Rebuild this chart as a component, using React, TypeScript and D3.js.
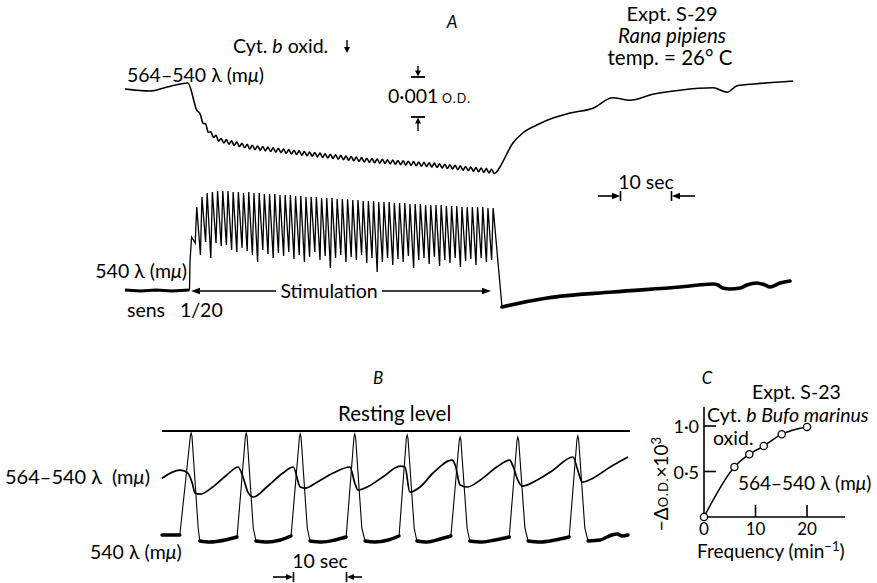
import React from "react";
import * as d3 from "d3";

const FONT = "Lato, 'Open Sans', 'DejaVu Sans', sans-serif";

// ---------------- Panel A data ----------------
// upper trace 564-540 (time s, ΔO.D. ×10^3 relative to start)
const A_TOP_T = [0, 4.8, 8.1, 12.1, 13.8, 16.3, 18.3, 24, 33.7, 46.5, 59.2, 70.2, 71.5, 72.1, 74.6, 76.5, 79.2, 81.2, 85.6, 90, 93.8, 97.1, 101.5, 106.7, 113.1, 115.8, 117.7, 121.5, 128.5];
const A_TOP_V = [0, -0.05, 0.05, 0.15, -0.53, -1.1, -1.28, -1.45, -1.6, -1.78, -1.9, -2.05, -2.07, -1.95, -1.35, -1.1, -0.9, -0.78, -0.6, -0.48, -0.22, -0.28, -0.13, -0.03, 0.03, -0.08, 0.08, 0.13, 0.2];
const A_WIGGLE = 0.05;

// lower trace 540 (arbitrary units), before / during / after stimulation
const A_BOT_PRE_T = [0, 3, 6, 9, 12.4];
const A_BOT_PRE_U = [0, -1, 0, -1, 0];
const A_STIM_START = 12.5;
const A_STIM_DT = 1.0;
const A_STIM_PEAK = [53, 83, 93, 97, 98, 99, 99, 99, 98, 98, 97, 98, 97, 97, 96, 96, 96, 95, 95, 95, 94, 94, 93, 93, 93, 92, 92, 92, 91, 91, 91, 90, 90, 89, 89, 89, 88, 88, 88, 87, 87, 87, 86, 86, 86, 85, 85, 85, 85, 84, 84, 84, 83, 83, 83, 83, 83, 82, 82];
const A_STIM_TROUGH = [28, 47, 35, 48, 32, 47, 44, 45, 40, 38, 42, 39, 35, 28, 40, 36, 32, 37, 34, 38, 31, 35, 28, 33, 38, 30, 34, 22, 32, 35, 28, 33, 30, 35, 27, 32, 18, 28, 32, 25, 31, 28, 34, 22, 30, 32, 26, 33, 24, 30, 27, 32, 23, 29, 31, 25, 32, 28, 30];
const A_BOT_POST_T = [72.5, 73.3, 81.2, 93.8, 106.7, 113.1, 114, 115, 116.3, 118.3, 119.6, 121.5, 123.1, 124, 126, 127.9];
const A_BOT_POST_U = [-17, -16, -8, -2, 3, 6, 5, 2, 1, 2, 5, 7, 5, 3, 7, 9];

// ---------------- Panel B data ----------------
const B_UP_T = [0, 3.3, 4.6, 5.6, 6.1, 7.0, 9.4, 12.0, 14.1, 15.0, 15.9, 16.9, 19.4, 22.4, 24.3, 25.6, 26.5, 28.7, 31.7, 34.8, 35.7, 36.3, 38.0, 40.9, 44.1, 45.0, 45.9, 47.8, 50.2, 53.7, 54.3, 55.2, 56.5, 58.9, 62.0, 64.4, 65.0, 65.9, 66.7, 69.4, 72.4, 76.1, 77.0, 77.8, 79.8, 83.0, 86.3];
const B_UP_V = [-1.18, -0.98, -1.03, -1.3, -1.55, -1.58, -1.4, -1.1, -0.9, -1.15, -1.53, -1.65, -1.4, -1.05, -0.9, -1.4, -1.43, -1.28, -1.05, -0.9, -1.3, -1.48, -1.4, -1.15, -0.88, -0.9, -1.53, -1.4, -1.05, -0.73, -0.85, -1.35, -1.4, -1.23, -0.9, -0.73, -0.88, -1.23, -1.38, -1.23, -0.98, -0.65, -0.98, -1.28, -1.18, -0.9, -0.65];
const B_SPIKE_T = [5.4, 15.6, 25.6, 35.7, 45.4, 55.2, 65.9, 77.0];
const B_SPIKE_PEAK = [107, 107, 106, 106, 105, 103, 103, 104];
const B_LO_T = [0, 3.3, 7.0, 8.9, 11.7, 13.9, 17.4, 19.6, 21.9, 23.9, 27.4, 29.6, 32.0, 34.1, 37.6, 39.4, 41.9, 43.9, 47.2, 49.1, 51.5, 53.5, 57.0, 59.3, 61.7, 64.3, 67.8, 70.0, 72.8, 75.4, 78.9, 81.1, 82.4, 83.3, 84.3, 85.2, 86.3];
const B_LO_U = [5, 5, -1, -2, 0, 3, -1, -2, 0, 4, -1, -2, 0, 3, -1, -2, 0, 4, -1, -2, 1, 4, -1, -2, 0, 3, -1, -2, 0, 3, -1, 0, 3, 5, 6, 4, 5];

// ---------------- Panel C data ----------------
const C_FREQ = [0, 5.9, 8.8, 11.6, 15.1, 20];
const C_DOD = [0, 0.55, 0.69, 0.78, 0.91, 0.99];
const C_XTICKS = [0, 10, 20];
const C_YTICKS = [0.5, 1.0];
const C_YTICK_LABELS = ["0·5", "1·0"];

function head(x: number, y: number, dir: string, L = 8, w = 3.5) {
  switch (dir) {
    case "right":
      return `M${x},${y}L${x - L},${y - w}L${x - L},${y + w}Z`;
    case "left":
      return `M${x},${y}L${x + L},${y - w}L${x + L},${y + w}Z`;
    case "down":
      return `M${x},${y}L${x - w},${y - L}L${x + w},${y - L}Z`;
    default:
      return `M${x},${y}L${x - w},${y + L}L${x + w},${y + L}Z`;
  }
}

const Mu = () => <tspan fontStyle="italic">μ</tspan>;

export default function App() {
  // ----- scales -----
  const xA = d3.scaleLinear().domain([0, 10]).range([125, 177]);
  const yAtop = d3.scaleLinear().domain([0, -1]).range([89, 129]);
  const yAbot = d3.scaleLinear().domain([0, 100]).range([290, 190]);

  const xB = d3.scaleLinear().domain([0, 10]).range([162, 216]);
  const yBup = d3.scaleLinear().domain([0, -1]).range([431, 471]);
  const yBlo = d3.scaleLinear().domain([0, 100]).range([540, 440]);

  const xC = d3.scaleLinear().domain([0, 10]).range([704, 755.5]);
  const yC = d3.scaleLinear().domain([0, 1]).range([517, 426]);

  // ----- A upper trace -----
  const envA = d3.scaleLinear().domain(A_TOP_T).range(A_TOP_V);
  const topPts: [number, number][] = [];
  A_TOP_T.forEach((t, i) => {
    if (t < 14) topPts.push([t, A_TOP_V[i]]);
  });
  A_STIM_PEAK.forEach((_, i) => {
    const ts = A_STIM_START + i * A_STIM_DT;
    if (ts < 14.2) return;
    topPts.push([ts, envA(ts) + A_WIGGLE]);
    topPts.push([ts + 0.5, envA(ts + 0.5) - A_WIGGLE]);
  });
  A_TOP_T.forEach((t, i) => {
    if (t > 71.2) topPts.push([t, A_TOP_V[i]]);
  });
  const lineAtop = d3
    .line<[number, number]>()
    .x((d) => xA(d[0]))
    .y((d) => yAtop(d[1]))
    .curve(d3.curveMonotoneX);

  // ----- A lower trace -----
  const lineAbot = d3
    .line<[number, number]>()
    .x((d) => xA(d[0]))
    .y((d) => yAbot(d[1]));
  const lineAbotSmooth = d3
    .line<[number, number]>()
    .x((d) => xA(d[0]))
    .y((d) => yAbot(d[1]))
    .curve(d3.curveMonotoneX);
  const prePts = A_BOT_PRE_T.map((t, i) => [t, A_BOT_PRE_U[i]] as [number, number]);
  const postPts = A_BOT_POST_T.map((t, i) => [t, A_BOT_POST_U[i]] as [number, number]);
  const stimPts: [number, number][] = [prePts[prePts.length - 1]];
  A_STIM_PEAK.forEach((p, i) => {
    const ts = A_STIM_START + i * A_STIM_DT;
    stimPts.push([ts, A_STIM_TROUGH[i]]);
    stimPts.push([ts + 0.3, p]);
  });
  stimPts.push(postPts[0]);

  // ----- B traces -----
  const lineBup = d3
    .line<[number, number]>()
    .x((d) => xB(d[0]))
    .y((d) => yBup(d[1]))
    .curve(d3.curveMonotoneX);
  const bUpPts = B_UP_T.map((t, i) => [t, B_UP_V[i]] as [number, number]);
  const lineBlo = d3
    .line<[number, number]>()
    .x((d) => xB(d[0]))
    .y((d) => yBlo(d[1]))
    .curve(d3.curveMonotoneX);
  const lineBspike = d3
    .line<[number, number]>()
    .x((d) => xB(d[0]))
    .y((d) => yBlo(d[1]));
  const bLoPts = B_LO_T.map((t, i) => [t, B_LO_U[i]] as [number, number]);
  const segments: [number, number][][] = [];
  const bounds = [-Infinity, ...B_SPIKE_T, Infinity];
  for (let k = 0; k < bounds.length - 1; k++) {
    segments.push(bLoPts.filter((p) => p[0] > bounds[k] && p[0] < bounds[k + 1]));
  }
  const spikes = B_SPIKE_T.map((ts, k) => {
    const before = segments[k][segments[k].length - 1];
    const after = segments[k + 1][0];
    return [before, [ts - 0.15, B_SPIKE_PEAK[k] - 3], [ts, B_SPIKE_PEAK[k]], [ts + 0.15, B_SPIKE_PEAK[k] - 3], [ts + 1.3, 12], after] as [number, number][];
  });

  // ----- C -----
  const cPts = C_FREQ.map((f, i) => [f, C_DOD[i]] as [number, number]);
  const lineC = d3
    .line<[number, number]>()
    .x((d) => xC(d[0]))
    .y((d) => yC(d[1]))
    .curve(d3.curveMonotoneX);

  const fs = 19.5;

  return (
    <svg
      width={877}
      height={583}
      viewBox="0 0 877 583"
      style={{ position: "absolute", left: 0, top: 0, background: "#fff" }}
      fontFamily={FONT}
    >
      <rect x={0} y={0} width={877} height={583} fill="#fff" />

      {/* ================= Panel A ================= */}
      <text x={452} y={28} fontSize={17} fontStyle="italic" textAnchor="middle">A</text>
      <text x={233} y={53} fontSize={fs}>
        Cyt. <tspan fontStyle="italic">b</tspan> oxid.
      </text>
      <line x1={347} x2={347} y1={40} y2={48} stroke="#000" strokeWidth={1.4} />
      <path d={head(347, 53, "down", 6, 3)} fill="#000" />

      <text x={127} y={82} fontSize={fs}>
        564–540 λ (m<Mu />)
      </text>

      {/* O.D. scale bar */}
      <line x1={411} x2={425} y1={77} y2={77} stroke="#000" strokeWidth={1.8} />
      <line x1={418} x2={418} y1={66} y2={71} stroke="#000" strokeWidth={1.4} />
      <path d={head(418, 76.5, "down", 6, 3)} fill="#000" />
      <line x1={411} x2={425} y1={117} y2={117} stroke="#000" strokeWidth={1.8} />
      <line x1={418} x2={418} y1={123} y2={131} stroke="#000" strokeWidth={1.4} />
      <path d={head(418, 117.5, "up", 6, 3)} fill="#000" />
      <text x={388} y={103} fontSize={fs}>0·001</text>
      <text x={442} y={103} fontSize={12.5} letterSpacing={1}>O.D.</text>

      {/* experiment description */}
      <text x={672} y={21} fontSize={20} textAnchor="middle">Expt. S-29</text>
      <text x={672} y={43} fontSize={20.5} textAnchor="middle" fontStyle="italic">Rana pipiens</text>
      <text x={670} y={65} fontSize={20.5} textAnchor="middle">temp. = 26° C</text>

      {/* 10 sec scale A */}
      <text x={646} y={189} fontSize={fs} textAnchor="middle">10 sec</text>
      <line x1={598} x2={614} y1={196} y2={196} stroke="#000" strokeWidth={1.6} />
      <path d={head(620, 196, "right", 8, 3.2)} fill="#000" />
      <line x1={620.5} x2={620.5} y1={191} y2={201} stroke="#000" strokeWidth={1.6} />
      <line x1={678} x2={695} y1={196} y2={196} stroke="#000" strokeWidth={1.6} />
      <path d={head(672, 196, "left", 8, 3.2)} fill="#000" />
      <line x1={671.5} x2={671.5} y1={191} y2={201} stroke="#000" strokeWidth={1.6} />

      {/* upper trace */}
      <path d={lineAtop(topPts) || ""} fill="none" stroke="#000" strokeWidth={1.6} />

      {/* lower trace */}
      <path d={lineAbot(prePts) || ""} fill="none" stroke="#000" strokeWidth={3.2} />
      <path d={lineAbot(stimPts) || ""} fill="none" stroke="#000" strokeWidth={1.3} />
      <path d={lineAbotSmooth(postPts) || ""} fill="none" stroke="#000" strokeWidth={3.6} strokeLinecap="round" />

      <text x={187} y={278} fontSize={fs} textAnchor="end">
        540 λ (m<Mu />)
      </text>
      <text x={127} y={317} fontSize={fs}>sens</text>
      <text x={180} y={317} fontSize={fs}>1/20</text>

      {/* Stimulation arrow */}
      <line x1={196} x2={276} y1={291} y2={291} stroke="#000" strokeWidth={1.6} />
      <path d={head(191, 291, "left", 9, 3.2)} fill="#000" />
      <text x={329} y={298} fontSize={fs} textAnchor="middle">Stimulation</text>
      <line x1={382} x2={484} y1={291} y2={291} stroke="#000" strokeWidth={1.6} />
      <path d={head(491, 291, "right", 9, 3.2)} fill="#000" />

      {/* ================= Panel B ================= */}
      <text x={378} y={384} fontSize={17} fontStyle="italic" textAnchor="middle">B</text>
      <text x={338} y={421} fontSize={20.5}>Resting level</text>
      <line x1={xB(0)} x2={630} y1={yBup(0)} y2={yBup(0)} stroke="#000" strokeWidth={1.8} />

      <path d={lineBup(bUpPts) || ""} fill="none" stroke="#000" strokeWidth={1.7} />
      {spikes.map((s, i) => (
        <path key={i} d={lineBspike(s) || ""} fill="none" stroke="#000" strokeWidth={1.1} />
      ))}
      {segments.map((s, i) => (
        <path key={i} d={lineBlo(s) || ""} fill="none" stroke="#000" strokeWidth={3.4} strokeLinecap="round" />
      ))}

      <text x={5} y={484} fontSize={20}>564–540 λ</text>
      <text x={150} y={484} fontSize={20} textAnchor="end">
        (m<Mu />)
      </text>
      <text x={90} y={559} fontSize={19.5}>
        540 λ (m<Mu />)
      </text>

      <text x={320} y={568} fontSize={fs} textAnchor="middle">10 sec</text>
      <line x1={273} x2={287} y1={577} y2={577} stroke="#000" strokeWidth={1.6} />
      <path d={head(293, 577, "right", 7, 3)} fill="#000" />
      <line x1={293.5} x2={293.5} y1={572} y2={582} stroke="#000" strokeWidth={1.6} />
      <line x1={353} x2={362} y1={577} y2={577} stroke="#000" strokeWidth={1.6} />
      <path d={head(347, 577, "left", 7, 3)} fill="#000" />
      <line x1={346.5} x2={346.5} y1={572} y2={582} stroke="#000" strokeWidth={1.6} />

      {/* ================= Panel C ================= */}
      <text x={707} y={384} fontSize={17} fontStyle="italic" textAnchor="middle">C</text>
      <text x={752} y={399} fontSize={19.5}>Expt. S-23</text>
      <text x={707} y={422} fontSize={19.5}>
        Cyt. <tspan fontStyle="italic">b Bufo marinus</tspan>
      </text>
      <text x={713} y={445} fontSize={19.5}>oxid.</text>
      <text x={738} y={490} fontSize={19}>
        564–540 λ (m<Mu />)
      </text>

      {/* axes */}
      <line x1={xC(0)} x2={845} y1={yC(0)} y2={yC(0)} stroke="#000" strokeWidth={1.6} />
      <line x1={xC(0)} x2={xC(0)} y1={yC(0)} y2={407} stroke="#000" strokeWidth={1.6} />
      {C_YTICKS.map((v, i) => (
        <g key={i}>
          <line x1={xC(0)} x2={xC(0) + 12} y1={yC(v)} y2={yC(v)} stroke="#000" strokeWidth={1.6} />
          <text x={699} y={yC(v) + 7} fontSize={18} textAnchor="end">{C_YTICK_LABELS[i]}</text>
        </g>
      ))}
      {C_XTICKS.map((v, i) => (
        <g key={i}>
          {v !== 0 && <line x1={xC(v)} x2={xC(v)} y1={yC(0)} y2={yC(0) - 12} stroke="#000" strokeWidth={1.6} />}
          <text x={xC(v)} y={535} fontSize={17} textAnchor="middle">{v}</text>
        </g>
      ))}
      <text x={697} y={558} fontSize={19}>
        Frequency (min<tspan dy={-7} fontSize={13}>−1</tspan><tspan dy={7}>)</tspan>
      </text>
      <text transform="translate(668,484) rotate(-90)" fontSize={19} textAnchor="middle">
        −Δ<tspan fontSize={13} letterSpacing={1}>O.D.</tspan>×10<tspan dy={-7} fontSize={13}>3</tspan>
      </text>

      <path d={lineC(cPts) || ""} fill="none" stroke="#000" strokeWidth={1.5} />
      {cPts.map((p, i) => (
        <circle key={i} cx={xC(p[0])} cy={yC(p[1])} r={3.6} fill="#fff" stroke="#000" strokeWidth={1.3} />
      ))}
    </svg>
  );
}
